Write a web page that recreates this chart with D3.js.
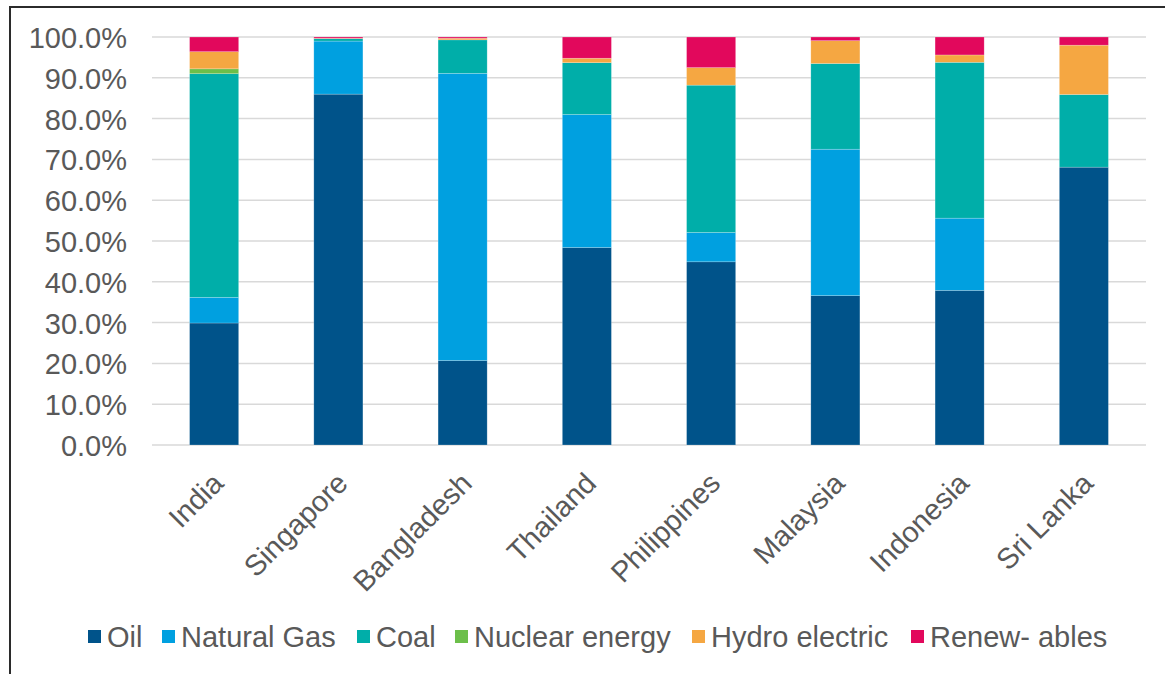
<!DOCTYPE html>
<html><head><meta charset="utf-8">
<script src="https://cdn.jsdelivr.net/npm/d3@7/dist/d3.min.js"></script>
<style>html,body{margin:0;padding:0;background:#fff;}svg{display:block;font-family:"Liberation Sans",Arial,sans-serif;}</style>
</head><body><svg id="c" width="1165" height="674"></svg>
<script>
const categories = ["India","Singapore","Bangladesh","Thailand","Philippines","Malaysia","Indonesia","Sri Lanka"];
const seriesNames = ["Oil","Natural Gas","Coal","Nuclear energy","Hydro electric","Renew- ables"];
const oil        = [29.9, 86.0, 20.7, 48.4, 44.9, 36.6, 37.9, 68.1];
const naturalGas = [ 6.3, 13.0, 70.4, 32.6,  7.2, 35.9, 17.7,  0.0];
const coal       = [54.8,  0.6,  8.2, 12.7, 36.1, 21.0, 38.2, 17.8];
const nuclear    = [ 1.2,  0.0,  0.0,  0.0,  0.0,  0.0,  0.0,  0.0];
const hydro      = [ 4.2,  0.1,  0.4,  1.1,  4.3,  5.6,  1.8, 12.1];
const renewables = [ 3.6,  0.3,  0.3,  5.2,  7.5,  0.9,  4.4,  2.0];
const yTicks = [0,10,20,30,40,50,60,70,80,90,100];
const colors = ["#00538A","#00A0E0","#00AEA9","#6CBF4A","#F5A742","#E2085C"];

const seriesValues = [oil, naturalGas, coal, nuclear, hydro, renewables];
const table = categories.map((c,i)=>{const o={cat:c}; seriesNames.forEach((s,j)=>o[s]=seriesValues[j][i]); return o;});
const stacked = d3.stack().keys(seriesNames)(table);

const svg = d3.select("#c");
const pLeft=152, pRight=1146, pTop=37, pBottom=445;
const x = d3.scaleBand().domain(categories).range([pLeft,pRight]).paddingInner(0.605).paddingOuter(0.3025);
const y = d3.scaleLinear().domain([0,100]).range([pBottom,pTop]);
const fs = "29px";

// frame
svg.append("rect").attr("x",10).attr("y",7).attr("width",1200).attr("height",700)
  .attr("fill","none").attr("stroke","#2b2b2b").attr("stroke-width",2);

// gridlines
svg.append("g").selectAll("line").data(yTicks).join("line")
  .attr("x1",pLeft).attr("x2",pRight).attr("y1",d=>y(d)).attr("y2",d=>y(d))
  .attr("stroke","#d9d9d9").attr("stroke-width",1.5);

// y axis labels
const yAxis = d3.axisLeft(y).tickValues(yTicks).tickFormat(d=>d.toFixed(1)+"%").tickSize(0).tickPadding(0);
const yg = svg.append("g").attr("transform",`translate(127,0)`).call(yAxis);
yg.select(".domain").remove();
yg.selectAll("text").attr("fill","#595959").style("font-size",fs).attr("dy","0.36em");

// bars
svg.append("g").selectAll("g").data(stacked).join("g").attr("fill",(d,i)=>colors[i])
  .selectAll("rect").data(d=>d).join("rect")
  .attr("x",d=>x(d.data.cat)).attr("width",x.bandwidth())
  .attr("y",d=>y(d[1])).attr("height",d=>Math.max(0,y(d[0])-y(d[1])))
  .attr("stroke","#ffffff").attr("stroke-opacity",0.35).attr("stroke-width",0.6);

// x labels
const xAxis = d3.axisBottom(x).tickSize(0).tickPadding(0);
const xg = svg.append("g").attr("transform",`translate(0,${pBottom})`).call(xAxis);
xg.select(".domain").remove();
xg.selectAll(".tick text").attr("fill","#595959").style("font-size",fs)
  .attr("text-anchor","end").attr("dy",null).attr("y",null)
  .attr("transform","translate(11,40) rotate(-45)");

// legend
const legendX = [88,162,357,455,692,911];
const lg = svg.append("g").selectAll("g").data(seriesNames).join("g")
  .attr("transform",(d,i)=>`translate(${legendX[i]},630)`);
lg.append("rect").attr("width",13).attr("height",13).attr("fill",(d,i)=>colors[i]);
lg.append("text").attr("x",19).attr("y",17).attr("fill","#595959").style("font-size",fs).text(d=>d);
</script></body></html>
